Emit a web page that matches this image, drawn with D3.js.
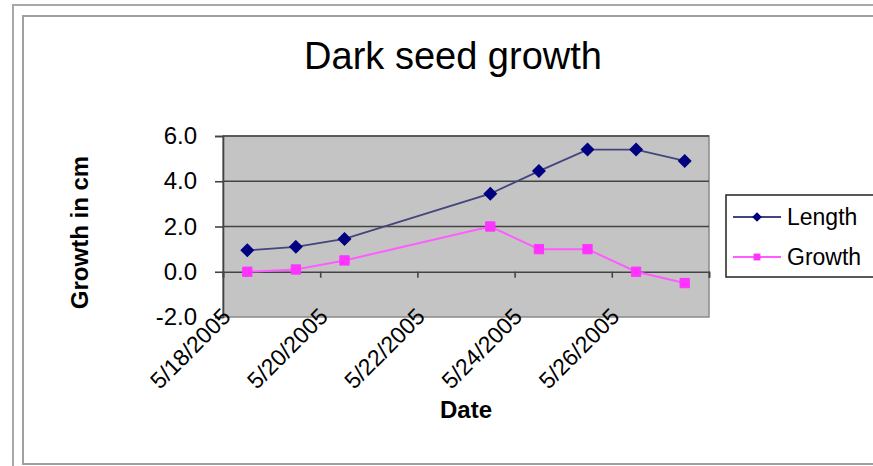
<!DOCTYPE html>
<html>
<head>
<meta charset="utf-8">
<script src="https://cdn.jsdelivr.net/npm/d3@7"></script>
<style>
  body { margin: 0; background: #fff; }
  svg { display: block; }
  text { font-family: "Liberation Sans", Arial, sans-serif; fill: #000; }
</style>
</head>
<body>
<svg id="chart" width="873" height="466"></svg>
<script>
// Measurement days and the two series (cm)
const dates = ["2005-05-18", "2005-05-19", "2005-05-20", "2005-05-23",
               "2005-05-24", "2005-05-25", "2005-05-26", "2005-05-27"];
const lengthValues = [0.95, 1.1, 1.45, 3.45, 4.45, 5.4, 5.4, 4.9];
const growthValues = [0.0, 0.1, 0.5, 2.0, 1.0, 1.0, 0.0, -0.5];

// Axis ticks
const yTicks = [-2, 0, 2, 4, 6];
const xTickDates = ["2005-05-18", "2005-05-20", "2005-05-22", "2005-05-24", "2005-05-26", "2005-05-28"];
const xTickLabels = ["5/18/2005", "5/20/2005", "5/22/2005", "5/24/2005", "5/26/2005"];

const parse = d3.timeParse("%Y-%m-%d");
const svg = d3.select("#chart");

// Outer frames
svg.append("path").attr("d", "M13,466 V5 H873")
  .attr("fill", "none").attr("stroke", "#a8a8a8").attr("stroke-width", 2);
svg.append("path").attr("d", "M873,16 H23 V464 H873")
  .attr("fill", "none").attr("stroke", "#a0a0a0").attr("stroke-width", 2);

const plot = { left: 223, right: 709, top: 136, bottom: 317 };

const x = d3.scaleTime()
  .domain([parse("2005-05-18"), parse("2005-05-28")])
  .range([plot.left, plot.right]);
const y = d3.scaleLinear().domain([-2, 6]).range([plot.bottom, plot.top]);

// Each value sits in the middle of its day
const xDay = d => x(d3.timeHour.offset(parse(d), 12));

// Plot area
svg.append("rect")
  .attr("x", plot.left).attr("y", plot.top)
  .attr("width", plot.right - plot.left).attr("height", plot.bottom - plot.top)
  .attr("fill", "#c4c4c4").attr("stroke", "#8a8a8a").attr("stroke-width", 1.5);

// Horizontal gridlines
svg.append("g").selectAll("line")
  .data(yTicks.filter(t => t > 0))
  .join("line")
  .attr("x1", plot.left).attr("x2", plot.right)
  .attr("y1", d => y(d)).attr("y2", d => y(d))
  .attr("stroke", "#444").attr("stroke-width", 1.6);

// Y axis
const yAxis = svg.append("g")
  .attr("transform", `translate(${plot.left},0)`)
  .call(d3.axisLeft(y).tickValues(yTicks).tickSize(8).tickPadding(18)
    .tickFormat(d => d.toFixed(1)));
yAxis.select(".domain").attr("stroke", "#444").attr("stroke-width", 1.6);
yAxis.selectAll(".tick line").attr("stroke", "#444").attr("stroke-width", 1.6);
yAxis.selectAll(".tick text")
  .style("font-family", '"Liberation Sans", Arial, sans-serif')
  .style("font-size", "24px").attr("fill", "#222");

// X axis crossing at zero
const xAxis = svg.append("g")
  .attr("transform", `translate(0,${y(0)})`)
  .call(d3.axisBottom(x).tickValues(xTickDates.map(parse)).tickSize(6).tickFormat(""));
xAxis.select(".domain").attr("stroke", "#444").attr("stroke-width", 1.6);
xAxis.selectAll(".tick line").attr("stroke", "#444").attr("stroke-width", 1.6);

// Rotated date labels below the plot
svg.append("g").selectAll("text")
  .data(xTickLabels)
  .join("text")
  .attr("transform", d => {
    const [m, day, yr] = d.split("/");
    const px = x(new Date(+yr, +m - 1, +day));
    return `translate(${px + 9},${plot.bottom + 1}) rotate(-45)`;
  })
  .attr("text-anchor", "end")
  .style("font-size", "23px")
  .attr("fill", "#333")
  .text(d => d);

// Series lines and markers
const line = d3.line().x(d => xDay(d.date)).y(d => y(d.value));
const lengthData = dates.map((d, i) => ({ date: d, value: lengthValues[i] }));
const growthData = dates.map((d, i) => ({ date: d, value: growthValues[i] }));

svg.append("path").datum(growthData).attr("d", line)
  .attr("fill", "none").attr("stroke", "#ff5cff").attr("stroke-width", 2);
svg.append("path").datum(lengthData).attr("d", line)
  .attr("fill", "none").attr("stroke", "#44447e").attr("stroke-width", 1.8);

const diamond = d3.symbol().type(d3.symbolDiamond2).size(90);
const square = d3.symbol().type(d3.symbolSquare2).size(110);

svg.append("g").selectAll("path").data(growthData).join("path")
  .attr("transform", d => `translate(${xDay(d.date)},${y(d.value)})`)
  .attr("d", square).attr("fill", "#ff33ff").attr("stroke", "#ff33ff").attr("stroke-width", 1);
svg.append("g").selectAll("path").data(lengthData).join("path")
  .attr("transform", d => `translate(${xDay(d.date)},${y(d.value)})`)
  .attr("d", diamond).attr("fill", "#000080").attr("stroke", "#000080").attr("stroke-width", 1.5);

// Titles
svg.append("text").attr("x", 453).attr("y", 69).attr("text-anchor", "middle")
  .style("font-size", "38px").attr("fill", "#111").text("Dark seed growth");
svg.append("text").attr("transform", `translate(88,${(plot.top + plot.bottom) / 2 + 6}) rotate(-90)`)
  .attr("text-anchor", "middle").style("font-size", "24px").style("font-weight", "bold")
  .text("Growth in cm");
svg.append("text").attr("x", (plot.left + plot.right) / 2).attr("y", 418)
  .attr("text-anchor", "middle").style("font-size", "24px").style("font-weight", "bold")
  .text("Date");

// Legend
const legend = svg.append("g");
legend.append("rect").attr("x", 726).attr("y", 195).attr("width", 170).attr("height", 82)
  .attr("fill", "#fff").attr("stroke", "#222").attr("stroke-width", 1.5);
const legendItems = [
  { name: "Length", color: "#44447e", fill: "#000080", type: d3.symbolDiamond2 },
  { name: "Growth", color: "#ff5cff", fill: "#ff33ff", type: d3.symbolSquare2 }
];
legendItems.forEach((it, i) => {
  const cy = 217 + i * 40;
  legend.append("line").attr("x1", 733).attr("x2", 781).attr("y1", cy).attr("y2", cy)
    .attr("stroke", it.color).attr("stroke-width", 2);
  legend.append("path").attr("transform", `translate(757,${cy})`)
    .attr("d", d3.symbol().type(it.type).size(60))
    .attr("fill", it.fill);
  legend.append("text").attr("x", 787).attr("y", cy + 8).style("font-size", "23px")
    .attr("fill", "#222").text(it.name);
});
</script>
</body>
</html>
